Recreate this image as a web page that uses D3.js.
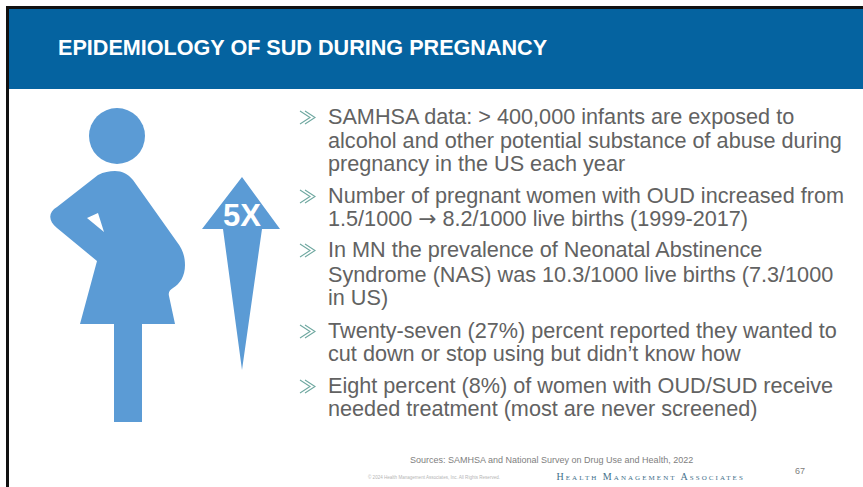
<!DOCTYPE html>
<html>

<head>
	<title>Epidemiology of SUD during pregnancy</title>
	<meta charset="utf-8">
	<script src="https://cdn.jsdelivr.net/npm/d3@7"></script>
	<style>
		html, body { margin: 0; padding: 0; background: #fff; overflow: hidden; }
		svg { display: block; font-family: "Liberation Sans", Arial, sans-serif; }
	</style>
</head>

<body>
	<svg width="863" height="487"></svg>

	<script>
		var title = 'EPIDEMIOLOGY OF SUD DURING PREGNANCY'
		var bullets = [
			['SAMHSA data: > 400,000 infants are exposed to', 'alcohol and other potential substance of abuse during', 'pregnancy in the US each year'],
			['Number of pregnant women with OUD increased from', '1.5/1000 <tspan font-family="DejaVu Sans">\u2192</tspan> 8.2/1000 live births (1999-2017)'],
			['In MN the prevalence of Neonatal Abstinence', 'Syndrome (NAS) was 10.3/1000 live births (7.3/1000', 'in US)'],
			['Twenty-seven (27%) percent reported they wanted to', 'cut down or stop using but didn\u2019t know how'],
			['Eight percent (8%) of women with OUD/SUD receive', 'needed treatment (most are never screened)']
		]
		var bulletBaselines = [
			[124, 148, 171],
			[203, 226],
			[257, 282, 305],
			[338, 361],
			[393, 416]
		]
		var source = 'Sources: SAMHSA and National Survey on Drug Use and Health, 2022'
		var copyright = '\u00a9 2024 Health Management Associates, Inc. All Rights Reserved.'
		var company = 'Health Management Associates'
		var pageNumber = '67'
		var arrowLabel = '5X'

		// outlines of the pictogram, in pixels of the picture
		var bodyPath = 'M115,171 C122,171 128,174 133,180 L177,242 C183,250 185,257 185,265 C185,276 180,284 173,288 C170,290 168,292 169,296 L175,324 L142,324 L142,422 L114,422 L114,324 L80,324 L97,261 L57,228 C48,221 48,212 57,207 L98,175 C104,172 109,171 115,171 Z M87,218 L98,213 L104,232 Z'
		var arrowPoints = [[242, 177], [280, 229], [262, 229], [242, 370], [223, 229], [202, 229]]

		var blue = '#5b9bd5'
		var svg = d3.select('svg')

		// frame and header
		svg.append('rect').attr('x', 6).attr('y', 6).attr('width', 857).attr('height', 3).attr('fill', '#111')
		svg.append('rect').attr('x', 6).attr('y', 6).attr('width', 3).attr('height', 481).attr('fill', '#111')
		svg.append('rect').attr('x', 9).attr('y', 9).attr('width', 854).attr('height', 80).attr('fill', '#0563a0')

		svg.append('text')
			.attr('x', 58).attr('y', 55)
			.attr('fill', '#fff')
			.attr('font-size', 21.6)
			.attr('font-weight', 'bold')
			.text(title)

		// pictogram
		svg.append('circle').attr('cx', 117).attr('cy', 136).attr('r', 28).attr('fill', blue)
		svg.append('path').attr('d', bodyPath).attr('fill', blue).attr('fill-rule', 'evenodd')
		svg.append('path').attr('d', d3.line()(arrowPoints) + 'Z').attr('fill', blue)
		svg.append('text')
			.attr('x', 242).attr('y', 226)
			.attr('text-anchor', 'middle')
			.attr('fill', '#fff')
			.attr('font-size', 31)
			.attr('font-weight', 'bold')
			.text(arrowLabel)

		// bullets
		var items = svg.selectAll('g.item')
			.data(bullets)
			.enter()
			.append('g')
			.classed('item', true)

		items.append('path')
			.attr('d', function(d, i) {
				var y = bulletBaselines[i][0] - 6.5
				return 'M300,' + (y - 6.5) + 'L310,' + y + 'L300,' + (y + 6.5) + 'M305,' + (y - 6.5) + 'L315,' + y + 'L305,' + (y + 6.5)
			})
			.attr('fill', 'none')
			.attr('stroke', '#6fa8a0')
			.attr('stroke-width', 1.1)

		items.selectAll('text')
			.data(function(d, i) {
				return d.map(function(line, j) {
					return { line: line, y: bulletBaselines[i][j] }
				})
			})
			.enter()
			.append('text')
			.attr('x', 328)
			.attr('y', function(d) { return d.y })
			.attr('fill', '#626262')
			.attr('font-size', 21.65)
			.html(function(d) { return d.line })

		// footer
		svg.append('text')
			.attr('x', 410).attr('y', 463)
			.attr('fill', '#808080')
			.attr('font-size', 9)
			.text(source)

		svg.append('text')
			.attr('x', 368).attr('y', 479)
			.attr('fill', '#b5b5b5')
			.attr('font-size', 4.55)
			.text(copyright)

		svg.append('text')
			.attr('x', 556.5).attr('y', 480)
			.attr('fill', '#3f6f8a')
			.attr('font-family', '"Liberation Serif", serif')
			.attr('font-size', 10)
			.attr('letter-spacing', 2.05)
			.style('font-variant', 'small-caps')
			.text(company)

		svg.append('text')
			.attr('x', 795).attr('y', 474)
			.attr('fill', '#808080')
			.attr('font-size', 9)
			.text(pageNumber)
	</script>
</body>

</html>
